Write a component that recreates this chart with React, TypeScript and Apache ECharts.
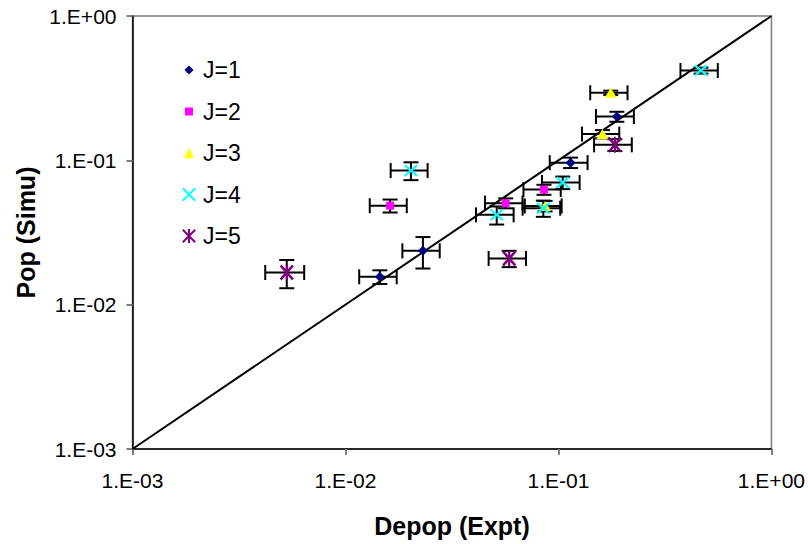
import React, { useEffect, useRef } from 'react';
import * as echarts from 'echarts';

// ---- data ----
const tickLabels = ['1.E-03', '1.E-02', '1.E-01', '1.E+00'];
const seriesNames = ['J=1', 'J=2', 'J=3', 'J=4', 'J=5'];

const j1X = [0.0145, 0.0231, 0.114, 0.188];
const j1Y = [0.0156, 0.0236, 0.0964, 0.201];
const j1XErr = [0.0029, 0.0046, 0.023, 0.038];
const j1YErr = [0.0017, 0.0058, 0.008, 0.016];

const j2X = [0.0162, 0.0565, 0.0855];
const j2Y = [0.0485, 0.0505, 0.0627];
const j2XErr = [0.0032, 0.0113, 0.017];
const j2YErr = [0.005, 0.004, 0.005];

const j3X = [0.176, 0.161, 0.0865];
const j3Y = [0.294, 0.152, 0.0483];
const j3XErr = [0.035, 0.032, 0.017];
const j3YErr = [0.01, 0.01, 0.004];

const j4X = [0.0203, 0.0513, 0.0849, 0.1047, 0.467];
const j4Y = [0.0849, 0.0419, 0.0466, 0.0702, 0.419];
const j4XErr = [0.004, 0.0103, 0.017, 0.021, 0.093];
const j4YErr = [0.012, 0.006, 0.006, 0.007, 0.02];

const j5X = [0.0053, 0.0587, 0.184];
const j5Y = [0.0167, 0.0209, 0.128];
const j5XErr = [0.0011, 0.0117, 0.037];
const j5YErr = [0.0037, 0.0027, 0.012];

const diagonal = [[0.001, 0.001], [1, 1]];

const allX = [j1X, j2X, j3X, j4X, j5X];
const allY = [j1Y, j2Y, j3Y, j4Y, j5Y];
const allXErr = [j1XErr, j2XErr, j3XErr, j4XErr, j5XErr];
const allYErr = [j1YErr, j2YErr, j3YErr, j4YErr, j5YErr];

// ---- styling ----
const colors = ['#000080', '#FF00FF', '#FFFF00', '#00FFFF', '#800080'];
const X_PATH = 'path://M0,1.2L1.2,0L5,3.8L8.8,0L10,1.2L6.2,5L10,8.8L8.8,10L5,6.2L1.2,10L0,8.8L3.8,5Z';
const AST_PATH = 'path://M0,1.2L1.2,0L5,3.8L8.8,0L10,1.2L6.2,5L10,8.8L8.8,10L5,6.2L1.2,10L0,8.8L3.8,5Z M4.3,0L5.7,0L5.7,10L4.3,10Z';
const symbols = ['diamond', 'rect', 'triangle', X_PATH, AST_PATH];
const symbolSizes: any[] = [10, 8, [12, 10], [14, 12], [14, 16]];

const svgIcon = (body: string) =>
  'image://data:image/svg+xml;utf8,' +
  encodeURIComponent(`<svg xmlns="http://www.w3.org/2000/svg" width="14" height="14" viewBox="0 0 14 14">${body}</svg>`);
const legendIcons = [
  svgIcon('<polygon points="7,2.4 11.6,7 7,11.6 2.4,7" fill="#000080"/>'),
  svgIcon('<rect x="3" y="3" width="8" height="8" fill="#FF00FF"/>'),
  svgIcon('<polygon points="7,1.8 12,12.2 2,12.2" fill="#FFFF00"/>'),
  svgIcon('<path d="M0.8,0.8L13.2,13.2M13.2,0.8L0.8,13.2" stroke="#00FFFF" stroke-width="2"/>'),
  svgIcon('<path d="M0.8,0.8L13.2,13.2M13.2,0.8L0.8,13.2M7,0L7,14" stroke="#800080" stroke-width="2"/>'),
];

const FONT = '"Liberation Sans", Arial, Helvetica, sans-serif';

const fmt = (v: number) => {
  const idx = Math.round(Math.log10(v)) + 3;
  return tickLabels[idx] ?? '';
};

export default function App() {
  const ref = useRef<HTMLDivElement>(null);
  useEffect(() => {
    if (!ref.current) return;
    const chart = echarts.init(ref.current, undefined, { renderer: 'svg' });

    const errData: number[][] = [];
    allX.forEach((xs, s) => {
      xs.forEach((x, i) => {
        errData.push([x, allY[s][i], allXErr[s][i], allYErr[s][i]]);
      });
    });

    const CAP = 7.5;
    const lineStyle = { stroke: '#000', lineWidth: 2 };

    const option: any = {
      animation: false,
      backgroundColor: '#fff',
      textStyle: { fontFamily: FONT },
      grid: {
        left: 132.5, right: 36.5, top: 16, bottom: 95,
        show: true, borderColor: '#7f7f7f', borderWidth: 1.5, backgroundColor: 'transparent',
      },
      legend: {
        orient: 'vertical',
        left: 177,
        top: 53,
        itemWidth: 14,
        itemHeight: 14,
        itemGap: 17.5,
        data: seriesNames.map((n, i) => ({ name: n, icon: legendIcons[i] })),
        textStyle: { fontSize: 23, color: '#000', fontFamily: FONT, lineHeight: 24, padding: [0, 0, 0, 2] },
      },
      xAxis: {
        type: 'log', logBase: 10, min: 0.001, max: 1,
        name: 'Depop (Expt)', nameLocation: 'middle', nameGap: 64,
        nameTextStyle: { fontSize: 25, fontWeight: 'bold', color: '#000', fontFamily: FONT },
        axisLine: { show: true, lineStyle: { color: '#000', width: 1.5 } },
        axisTick: { show: true, inside: false, length: 6, lineStyle: { color: '#7f7f7f', width: 2 } },
        axisLabel: { fontSize: 21, color: '#000', margin: 21, formatter: fmt, fontFamily: FONT },
        splitLine: { show: false },
        minorTick: { show: false },
      },
      yAxis: {
        type: 'log', logBase: 10, min: 0.001, max: 1,
        name: 'Pop (Simu)', nameLocation: 'middle', nameGap: 94,
        nameTextStyle: { fontSize: 25, fontWeight: 'bold', color: '#000', fontFamily: FONT },
        axisLine: { show: true, lineStyle: { color: '#000', width: 1.5 } },
        axisTick: { show: true, inside: false, length: 6, lineStyle: { color: '#7f7f7f', width: 2 } },
        axisLabel: { fontSize: 21, color: '#000', margin: 16, formatter: fmt, fontFamily: FONT },
        splitLine: { show: false },
        minorTick: { show: false },
      },
      series: [
        {
          type: 'line',
          name: 'diagonal',
          data: diagonal,
          symbol: 'none',
          lineStyle: { color: '#000', width: 2 },
          z: 1,
          silent: true,
        },
        {
          type: 'custom',
          name: 'errors',
          data: errData,
          encode: { x: 0, y: 1 },
          z: 2,
          silent: true,
          renderItem: (params: any, api: any) => {
            const x = api.value(0), y = api.value(1), dx = api.value(2), dy = api.value(3);
            const pL = api.coord([x - dx, y]);
            const pR = api.coord([x + dx, y]);
            const pB = api.coord([x, y - dy]);
            const pT = api.coord([x, y + dy]);
            const ln = (x1: number, y1: number, x2: number, y2: number) => ({
              type: 'line', shape: { x1, y1, x2, y2 }, style: lineStyle,
            });
            return {
              type: 'group',
              children: [
                ln(pL[0], pL[1], pR[0], pR[1]),
                ln(pL[0], pL[1] - CAP, pL[0], pL[1] + CAP),
                ln(pR[0], pR[1] - CAP, pR[0], pR[1] + CAP),
                ln(pB[0], pB[1], pT[0], pT[1]),
                ln(pB[0] - CAP, pB[1], pB[0] + CAP, pB[1]),
                ln(pT[0] - CAP, pT[1], pT[0] + CAP, pT[1]),
              ],
            };
          },
        },
        ...seriesNames.map((n, s) => ({
          type: 'scatter',
          name: n,
          data: allX[s].map((x, i) => [x, allY[s][i]]),
          symbol: symbols[s],
          symbolSize: symbolSizes[s],
          itemStyle: { color: colors[s], opacity: 1 },
          z: 3,
        })),
      ],
    };
    chart.setOption(option);
    return () => chart.dispose();
  }, []);

  return (
    <div
      ref={ref}
      style={{ position: 'fixed', left: 0, top: 0, width: 808, height: 544, background: '#fff' }}
    />
  );
}
